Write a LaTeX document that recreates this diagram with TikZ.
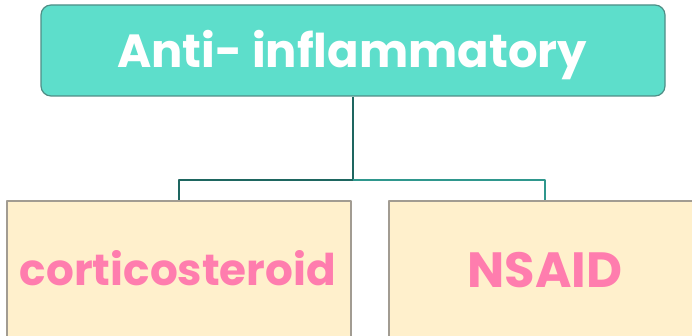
\documentclass[tikz,border=0pt]{standalone}
\usepackage{fontspec}
\setmainfont{Poppins}
\usetikzlibrary{positioning}
\definecolor{headfill}{HTML}{5DDECB}
\definecolor{headline}{HTML}{4F8E86}
\definecolor{darklink}{HTML}{1E6660}
\definecolor{lightlink}{HTML}{2F978D}
\definecolor{leaffill}{HTML}{FFF0CC}
\definecolor{leafline}{HTML}{A29C92}
\definecolor{leafpink}{HTML}{FF7DAE}
\begin{document}
\begin{tikzpicture}[x=1pt,y=1pt,line join=round,
	headbox/.style={draw=headline,fill=headfill,line width=1.2pt,rounded corners=10pt,minimum width=624pt,minimum height=91pt,inner sep=0pt},
	leafbox/.style={draw=leafline,fill=leaffill,line width=1.5pt,minimum height=150pt,anchor=north,inner sep=0pt},
	leaftext/.style={text=leafpink,inner sep=0pt,anchor=base}]
		\useasboundingbox[clip] (0,0) rectangle (692,335);
		\node[headbox] (anti) at (353,284.5) {};
		\node[text=white,font=\fontsize{46.5}{56}\selectfont\bfseries,inner sep=0pt,anchor=base] (antitext) at (352,267) {Anti- inflammatory};
		\node[leafbox,minimum width=344pt] (cort) at (179,135) {};
		\node[leafbox,minimum width=312pt] (nsaid) at (545,135) {};
		\node[leaftext,font=\fontsize{43.7}{52}\selectfont\bfseries] (corttext) at (178,50) {corticosteroid};
		\node[leaftext,font=\fontsize{49.5}{58}\selectfont\bfseries] (nsaidtext) at (545,48) {NSAID};
		%connectors
		\coordinate (split) at (anti.south |- 0,155);
		\draw[darklink,line width=2pt] (anti.south) -- (split) -| (cort.north);
		\draw[lightlink,line width=2pt] (split) -| (nsaid.north);
\end{tikzpicture}
\end{document}
